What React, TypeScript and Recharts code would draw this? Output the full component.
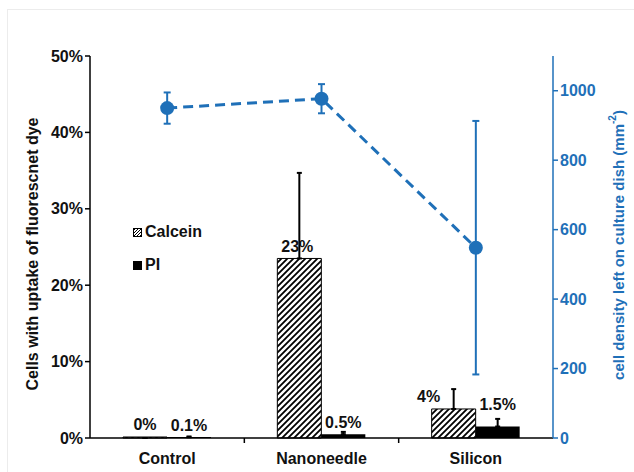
import React from "react";
import {
  ComposedChart,
  Bar,
  Line,
  XAxis,
  YAxis,
  ErrorBar,
  LabelList,
  Legend,
} from "recharts";

const categories = ["Control", "Nanoneedle", "Silicon"];
const calcein = [0, 0.235, 0.038];
const calceinErr = [0, 0.112, 0.026];
const pi = [0.001, 0.005, 0.015];
const piErr = [0.001, 0.003, 0.01];
const density = [950, 977, 548];
const densityErr = [45, 42, 365];
const calceinLabels = ["0%", "23%", "4%"];
const piLabels = ["0.1%", "0.5%", "1.5%"];
const leftTicks = [0, 0.1, 0.2, 0.3, 0.4, 0.5];
const rightTicks = [0, 200, 400, 600, 800, 1000];

const W = 634;
const H = 472;
const LEFT_W = 90;
const RIGHT_W = 81;
const BAND = (W - LEFT_W - RIGHT_W) / categories.length;
const BLUE = "#1f70b8";
const FONT = "Arial, 'Liberation Sans', sans-serif";

const chartData = categories.map((name, i) => ({
  name,
  calcein: calcein[i],
  calceinErr: [0, calceinErr[i]],
  pi: pi[i],
  piErr: [0, piErr[i]],
  density: density[i],
  densityErr: densityErr[i],
  calceinLabel: calceinLabels[i],
  piLabel: piLabels[i],
}));

// label nudges, matched to where the labels sit in the original
const calceinNudge = [
  { dx: 0, dy: -7 },
  { dx: -2, dy: -6 },
  { dx: -25, dy: -7 },
];
const piNudge = [
  { dx: 0, dy: -6 },
  { dx: 0, dy: -6 },
  { dx: 0, dy: -17 },
];

function makeLabel(nudge: { dx: number; dy: number }[]) {
  return function BarLabel(props: any) {
    const { x, y, width, value, index } = props;
    const n = nudge[index] || { dx: 0, dy: -6 };
    return (
      <text
        x={x + width / 2 + n.dx}
        y={y + n.dy}
        textAnchor="middle"
        fontFamily={FONT}
        fontWeight="bold"
        fontSize={16}
        fill="#111"
      >
        {value}
      </text>
    );
  };
}

function CategoryTick(props: any) {
  const { x, y, payload, index } = props;
  return (
    <g>
      <text
        x={x}
        y={y + 26}
        textAnchor="middle"
        fontFamily={FONT}
        fontWeight="bold"
        fontSize={16}
        fill="#111"
      >
        {payload.value}
      </text>
      {index < categories.length - 1 && (
        <line x1={x + BAND / 2} x2={x + BAND / 2} y1={y} y2={y + 5} stroke="#000" strokeWidth={1.5} />
      )}
    </g>
  );
}

function LegendBox() {
  return (
    <div style={{ fontFamily: FONT, fontWeight: "bold", fontSize: 16, color: "#111" }}>
      <div style={{ display: "flex", alignItems: "center", height: 20, marginBottom: 13 }}>
        <svg width={9} height={9} style={{ marginRight: 3 }}>
          <defs>
            <pattern id="hatchLegend" patternUnits="userSpaceOnUse" width={3} height={3}>
              <path d="M0,3 l3,-3 M-1,1 l2,-2 M2,4 l2,-2" stroke="#000" strokeWidth={1} />
            </pattern>
          </defs>
          <rect x={0.5} y={0.5} width={8} height={8} fill="url(#hatchLegend)" stroke="#000" />
        </svg>
        Calcein
      </div>
      <div style={{ display: "flex", alignItems: "center", height: 20 }}>
        <svg width={9} height={9} style={{ marginRight: 3 }}>
          <rect x={0} y={0} width={9} height={9} fill="#000" />
        </svg>
        PI
      </div>
    </div>
  );
}

export default function App() {
  return (
    <div
      style={{
        position: "absolute",
        left: 0,
        top: 0,
        width: W,
        height: H,
        background: "#fff",
        overflow: "hidden",
      }}
    >
      <div
        style={{
          position: "absolute",
          left: 7,
          top: 9,
          width: 660,
          height: 500,
          border: "1px solid #ececec",
        }}
      />
      <ComposedChart
        width={W}
        height={H}
        data={chartData}
        margin={{ top: 56, right: 0, left: 0, bottom: 4 }}
        barGap={0}
      >
        <defs>
          <pattern id="hatch" patternUnits="userSpaceOnUse" width={6} height={6}>
            <path d="M0,6 l6,-6 M-1.5,1.5 l3,-3 M4.5,7.5 l3,-3" stroke="#000" strokeWidth={1.8} />
          </pattern>
        </defs>
        <XAxis
          dataKey="name"
          xAxisId={0}
          axisLine={{ stroke: "#000", strokeWidth: 1.5 }}
          tickLine={false}
          tickSize={0}
          tickMargin={0}
          height={30}
          tick={<CategoryTick />}
          interval={0}
        />
        <YAxis
          yAxisId="left"
          orientation="left"
          width={LEFT_W}
          domain={[0, 0.5]}
          ticks={leftTicks}
          tickFormatter={(v: number) => `${Math.round(v * 100)}%`}
          axisLine={{ stroke: "#000", strokeWidth: 1.5 }}
          tickLine={{ stroke: "#000", strokeWidth: 1.5 }}
          tickSize={5}
          tick={{ fill: "#111", fontFamily: FONT, fontWeight: "bold", fontSize: 16 }}
          label={{
            content: (p: any) => {
              const vb = p.viewBox;
              const cx = vb.x + 32;
              const cy = vb.y + vb.height / 2 + 7;
              return (
                <text
                  x={cx}
                  y={cy}
                  transform={`rotate(-90 ${cx} ${cy})`}
                  textAnchor="middle"
                  dominantBaseline="central"
                  fontFamily={FONT}
                  fontWeight="bold"
                  fontSize={16}
                  fill="#111"
                >
                  Cells with uptake of fluorescnet dye
                </text>
              );
            },
          }}
        />
        <YAxis
          yAxisId="right"
          orientation="right"
          width={RIGHT_W}
          domain={[0, 1100]}
          ticks={rightTicks}
          axisLine={{ stroke: BLUE, strokeWidth: 1.5 }}
          tickLine={{ stroke: BLUE, strokeWidth: 1.5 }}
          tickSize={5}
          tick={{ fill: BLUE, fontFamily: FONT, fontWeight: "bold", fontSize: 16 }}
          label={{
            content: (p: any) => {
              const vb = p.viewBox;
              const cx = vb.x + 65;
              const cy = vb.y + vb.height / 2 - 2;
              return (
                <text
                  x={cx}
                  y={cy}
                  transform={`rotate(-90 ${cx} ${cy})`}
                  textAnchor="middle"
                  dominantBaseline="central"
                  fontFamily={FONT}
                  fontWeight="bold"
                  fontSize={15}
                  fill={BLUE}
                >
                  cell density left on culture dish (mm
                  <tspan fontSize={10} dy={-6}>
                    -2
                  </tspan>
                  <tspan dy={6}>)</tspan>
                </text>
              );
            },
          }}
        />
        <Legend
          layout="vertical"
          align="center"
          verticalAlign="middle"
          wrapperStyle={{ left: 133, top: 222, width: 110 }}
          content={() => <LegendBox />}
        />
        <Bar
          yAxisId="left"
          dataKey="calcein"
          name="Calcein"
          barSize={44}
          fill="url(#hatch)"
          stroke="#000"
          strokeWidth={1}
          minPointSize={1}
          isAnimationActive={false}
        >
          <ErrorBar dataKey="calceinErr" width={2.5} stroke="#000" strokeWidth={2} direction="y" />
          <LabelList dataKey="calceinLabel" content={makeLabel(calceinNudge)} />
        </Bar>
        <Bar
          yAxisId="left"
          dataKey="pi"
          name="PI"
          barSize={44}
          fill="#000"
          minPointSize={1}
          isAnimationActive={false}
        >
          <ErrorBar dataKey="piErr" width={2.5} stroke="#000" strokeWidth={2} direction="y" />
          <LabelList dataKey="piLabel" content={makeLabel(piNudge)} />
        </Bar>
        <Line
          yAxisId="right"
          dataKey="density"
          name="Cell density"
          stroke={BLUE}
          strokeWidth={3}
          strokeDasharray="10 6"
          dot={{ r: 7, fill: BLUE, stroke: "none" }}
          activeDot={false}
          isAnimationActive={false}
        >
          <ErrorBar dataKey="densityErr" width={3.5} stroke={BLUE} strokeWidth={2} direction="y" />
        </Line>
      </ComposedChart>
    </div>
  );
}
